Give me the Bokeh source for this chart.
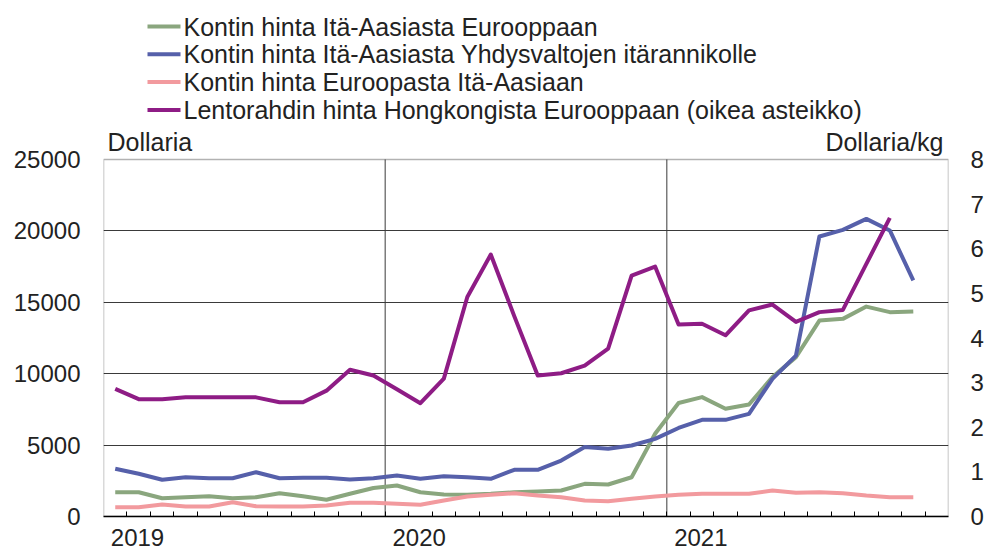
from bokeh.plotting import figure
from bokeh.models import LinearAxis, Range1d, FixedTicker, Label, BoxAnnotation
from bokeh.core.properties import value
from bokeh.embed import file_html
from bokeh.resources import INLINE

# ---- data (monthly values, Jan 2019 onwards) ----
years = ["2019", "2020", "2021"]
months_per_year = 12

names = [
    "Kontin hinta Itä-Aasiasta Eurooppaan",
    "Kontin hinta Itä-Aasiasta Yhdysvaltojen itärannikolle",
    "Kontin hinta Euroopasta Itä-Aasiaan",
    "Lentorahdin hinta Hongkongista Eurooppaan (oikea asteikko)",
]

asia_europe = [1700, 1700, 1280, 1350, 1420, 1280, 1350, 1630, 1420, 1170, 1590, 2000,
               2170, 1700, 1540, 1520, 1590, 1700, 1750, 1820, 2290, 2240, 2750, 5790,
               7950, 8360, 7540, 7840, 9760, 11160, 13720, 13840, 14700, 14310, 14350]
asia_us_east = [3340, 2990, 2570, 2750, 2680, 2680, 3100, 2680, 2710, 2710, 2590, 2680,
                2870, 2640, 2820, 2750, 2640, 3270, 3270, 3920, 4860, 4740, 4970, 5440,
                6200, 6770, 6770, 7190, 9640, 11270, 19610, 20070, 20840, 20030, 16530]
europe_asia = [650, 650, 840, 700, 700, 1000, 720, 700, 700, 770, 960, 960,
               890, 820, 1120, 1400, 1520, 1630, 1470, 1350, 1120, 1070, 1240, 1400,
               1520, 1590, 1590, 1590, 1820, 1660, 1700, 1630, 1470, 1350, 1350]
air_hk_europe = [2.86, 2.63, 2.63, 2.67, 2.67, 2.67, 2.67, 2.56, 2.56, 2.82, 3.29, 3.16,
                 2.85, 2.54, 3.09, 4.92, 5.87, 4.49, 3.16, 3.21, 3.38, 3.76, 5.40, 5.60,
                 4.30, 4.32, 4.06, 4.62, 4.75, 4.36, 4.58, 4.63, 5.66, 6.69]

left_ticks = [0, 5000, 10000, 15000, 20000, 25000]
right_ticks = [0, 1, 2, 3, 4, 5, 6, 7, 8]
left_title = "Dollaria"
right_title = "Dollaria/kg"

colors = ["#8aa67e", "#5660aa", "#f29a9e", "#8e1c85"]
FONT = "Liberation Sans"
TXT = "#222222"

# ---- layout (page pixels) ----
W, H = 987, 556
BORDER_L, BORDER_R, BORDER_B = 103, 39, 40
FRAME_L, FRAME_R = BORDER_L, W - BORDER_R
FRAME_B = H - BORDER_B          # bottom of the chart box
BOX_TOP = 159                   # top of the chart box (value = last left tick)
n_months = len(years) * months_per_year

y_max = left_ticks[-1] * FRAME_B / (FRAME_B - BOX_TOP)      # frame reaches page top
y2_max = right_ticks[-1] * FRAME_B / (FRAME_B - BOX_TOP)


def x_of(px):
    return (px - FRAME_L) / (FRAME_R - FRAME_L) * n_months


def y_of(py):
    return (FRAME_B - py) / (FRAME_B - BOX_TOP) * left_ticks[-1]


def xs(series):
    return [i + 0.5 for i in range(len(series))]


p = figure(width=W, height=H, output_backend="svg", toolbar_location=None,
           x_range=Range1d(0, n_months), y_range=Range1d(0, y_max),
           min_border_left=BORDER_L, min_border_right=BORDER_R, min_border_top=0,
           min_border_bottom=BORDER_B, title=None)
p.extra_y_ranges = {"kg": Range1d(0, y2_max)}
p.background_fill_color = "white"
p.border_fill_color = "white"
p.outline_line_color = None

# chart box
p.add_layout(BoxAnnotation(left=0, right=n_months, bottom=left_ticks[0], top=left_ticks[-1],
                           fill_alpha=0, line_color="black", line_width=1.5, level="overlay"))

# grids
p.xgrid.visible = False
year_bounds = [months_per_year * k for k in range(1, len(years))]
p.segment(x0=year_bounds, x1=year_bounds, y0=[left_ticks[0]] * len(year_bounds),
          y1=[left_ticks[-1]] * len(year_bounds), line_color="#3a3a3a", line_width=1)
p.ygrid.ticker = FixedTicker(ticks=left_ticks[1:-1])
p.ygrid.grid_line_color = "#3a3a3a"
p.ygrid.grid_line_width = 1

# x axis: year labels, month minor ticks
label_pos = [months_per_year * k + 1.45 for k in range(len(years))]
xa = p.xaxis[0]
xa.ticker = FixedTicker(ticks=label_pos, minor_ticks=list(range(1, n_months)))
xa.major_label_overrides = {pos: y for pos, y in zip(label_pos, years)}
xa.major_tick_line_color = None
xa.major_tick_in = 0
xa.major_tick_out = 0
xa.minor_tick_line_color = "black"
xa.minor_tick_in = 5
xa.minor_tick_out = 0
xa.axis_line_color = "black"
xa.axis_line_width = 1.5
xa.major_label_text_font = FONT
xa.major_label_text_font_size = "24px"
xa.major_label_text_color = TXT
xa.major_label_standoff = 12

# left axis
ya = p.yaxis[0]
ya.ticker = FixedTicker(ticks=left_ticks)
ya.axis_line_color = None
ya.major_tick_line_color = None
ya.major_tick_in = 0
ya.major_tick_out = 0
ya.minor_tick_line_color = None
ya.major_label_text_font = FONT
ya.major_label_text_font_size = "24px"
ya.major_label_text_color = TXT
ya.major_label_standoff = 23

# right axis
ra = LinearAxis(y_range_name="kg", ticker=FixedTicker(ticks=right_ticks))
ra.axis_line_color = None
ra.major_tick_line_color = None
ra.major_tick_in = 0
ra.major_tick_out = 0
ra.minor_tick_line_color = None
ra.major_label_text_font = FONT
ra.major_label_text_font_size = "24px"
ra.major_label_text_color = TXT
ra.major_label_standoff = 22
p.add_layout(ra, "right")

# data lines
p.line(xs(asia_europe), asia_europe, line_color=colors[0], line_width=4, line_join="round")
p.line(xs(asia_us_east), asia_us_east, line_color=colors[1], line_width=4, line_join="round")
p.line(xs(europe_asia), europe_asia, line_color=colors[2], line_width=4, line_join="round")
p.line(xs(air_hk_europe), air_hk_europe, line_color=colors[3], line_width=4,
       line_join="round", y_range_name="kg")

# legend (above the chart box)
row_pitch = 27.8
row_ys = [y_of(26 + row_pitch * k) for k in range(len(names))]
p.segment(x0=[x_of(147)] * len(names), x1=[x_of(180)] * len(names), y0=row_ys, y1=row_ys,
          line_color=colors, line_width=4)
p.text(x=[x_of(183)] * len(names), y=row_ys, text=names, text_font=value(FONT),
       text_font_size=value("25px"), text_color=TXT, text_baseline="middle",
       text_align="left")

# unit titles
p.add_layout(Label(x=x_of(107), y=y_of(141.5), text=left_title, text_font=FONT,
                   text_font_size="25px", text_color=TXT, text_baseline="middle",
                   text_align="left"))
p.add_layout(Label(x=x_of(943), y=y_of(141.5), text=right_title, text_font=FONT,
                   text_font_size="25px", text_color=TXT, text_baseline="middle",
                   text_align="right"))

open("out.html", "w").write(file_html(p, INLINE))
